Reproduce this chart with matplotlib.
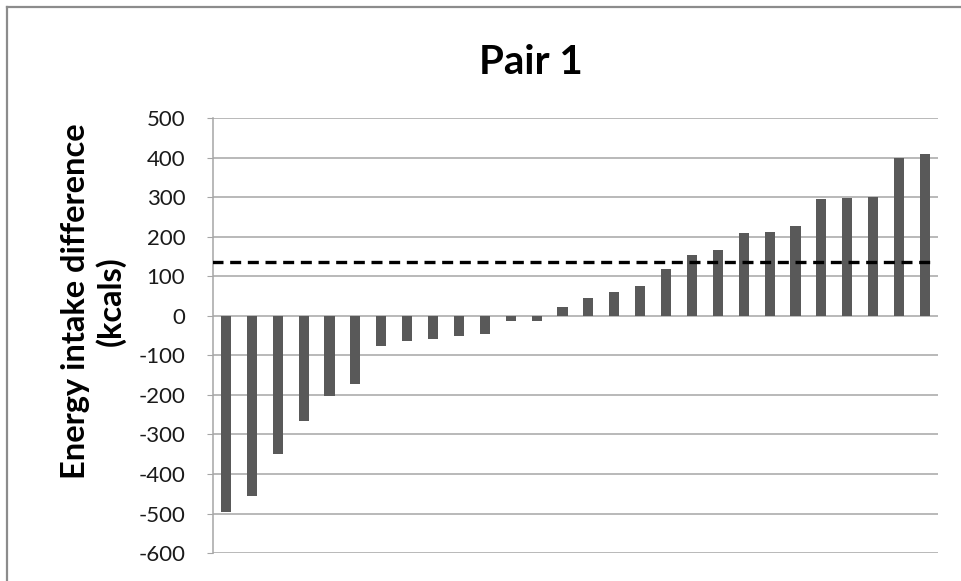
import numpy as np
from matplotlib import pyplot as plt
from matplotlib.lines import Line2D

# energy intake difference per pair member, sorted
values = [-496, -456, -350, -266, -204, -173, -76, -63, -59, -50, -46, -14, -14,
          23, 46, 60, 75, 117, 153, 166, 208, 211, 227, 294, 298, 301, 398, 408]
ref_line = 135
yticks = list(range(-600, 501, 100))

plt.rcParams['font.family'] = ['Lato', 'DejaVu Sans']

fig = plt.figure(figsize=(9.61, 5.81), dpi=100)
ax = fig.add_axes([0.2216, 0.048, 0.7544, 0.749])

x = np.arange(len(values))
ax.bar(x, values, width=0.39, color='#595959', zorder=3)
ax.hlines(ref_line, -0.55, len(values) - 0.82, colors='black', linewidth=2.4,
          linestyles=(0, (3.3, 2.0)), zorder=4)

ax.set_xlim(-0.5, len(values) - 0.5)
ax.set_ylim(-600, 500)
ax.set_yticks(yticks)
ax.set_yticklabels([str(t) for t in yticks], fontsize=16)
ax.set_xticks([])
ax.yaxis.grid(True, color='#a6a6a6', linewidth=1.1, zorder=0)
for s in ['top', 'right', 'bottom']:
    ax.spines[s].set_visible(False)
ax.spines['left'].set_color('#a6a6a6')
ax.spines['left'].set_linewidth(1.1)
ax.tick_params(axis='y', length=4, color='#a6a6a6', pad=16, labelcolor='#1a1a1a')

fig.text(0.552, 0.893, "Pair 1", fontsize=29, fontweight='bold',
         ha='center', va='center')
fig.text(0.097, 0.482, "Energy intake difference\n(kcals)", fontsize=23.5,
         fontweight='bold', rotation=90, ha='center', va='center',
         multialignment='center', linespacing=1.2)

# outer chart border (left and top edges visible)
fig.add_artist(Line2D([0.0078, 0.0078], [0.0, 0.988], color='#8c8c8c', linewidth=1.6))
fig.add_artist(Line2D([0.0078, 1.0], [0.988, 0.988], color='#8c8c8c', linewidth=1.6))

fig.savefig('out.png', dpi=100)
